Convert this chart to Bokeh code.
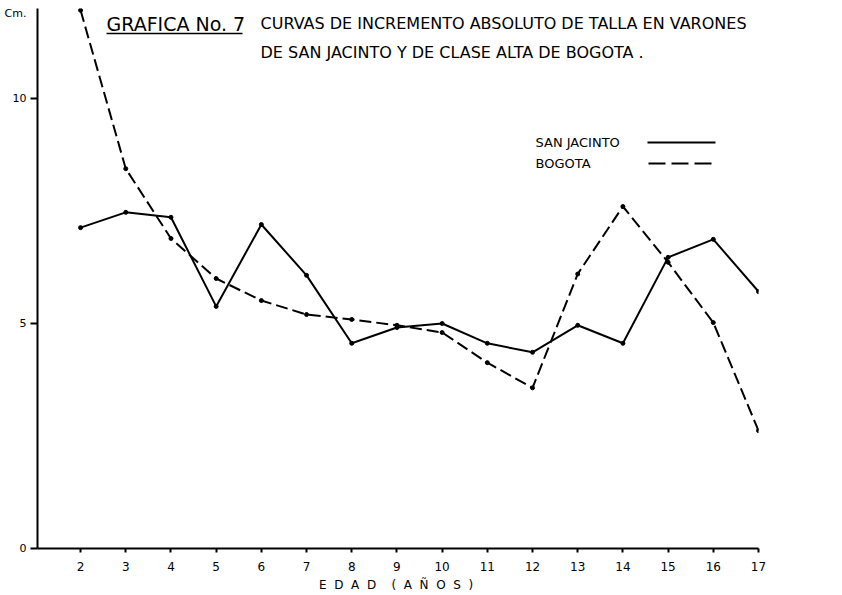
from bokeh.plotting import figure
from bokeh.models import Label, FixedTicker, Range1d, LinearAxis
from bokeh.embed import file_html
from bokeh.resources import INLINE

# ---- data ----
edad = [2, 3, 4, 5, 6, 7, 8, 9, 10, 11, 12, 13, 14, 15, 16, 17]
san_jacinto = [7.13, 7.47, 7.36, 5.38, 7.20, 6.07, 4.56, 4.91, 5.00, 4.56, 4.36, 4.96, 4.56, 6.47, 6.87, 5.71]
bogota = [11.96, 8.44, 6.89, 6.00, 5.51, 5.20, 5.09, 4.96, 4.80, 4.13, 3.57, 6.10, 7.60, 6.36, 5.02, 2.62]
y_ticks = [0, 5, 10]
x_ticks = edad

title_a = "GRAFICA No. 7"
title_1 = "CURVAS DE INCREMENTO ABSOLUTO DE TALLA EN VARONES"
title_2 = "DE SAN JACINTO Y DE CLASE ALTA DE BOGOTA ."
legend_names = ["SAN JACINTO", "BOGOTA"]
NB = "\u00a0"
x_label = (" " + NB).join("EDAD") + NB * 3 + "  " + (" " + NB).join(["(", "A", "Ñ", "O", "S", ")"])
y_unit = "Cm."

# ---- layout ----
X0, X1 = 1.047, 17.0
Y0, Y1 = 0.0, 12.0
FL, FR, FT, FB = 37, 758, 8, 548  # frame in page pixels
FW, FH = FR - FL, FB - FT
W, H = 840, 593
FONT = "DejaVu Sans"
UNIT_Y = Y0 + (FB - 13) / FH * (Y1 - Y0)  # where the unit text sits on the y scale


def px(xp, yp):
    """page pixel -> data coordinates (for annotation placement)"""
    return X0 + (xp - FL) / FW * (X1 - X0), Y0 + (FB - yp) / FH * (Y1 - Y0)


p = figure(frame_width=FW, frame_height=FH, output_backend="svg", toolbar_location=None,
           x_range=Range1d(X0, X1), y_range=Range1d(Y0, Y1),
           min_border_left=FL, min_border_top=FT, min_border_right=W - FR,
           min_border_bottom=H - FB)
p.outline_line_color = None
p.background_fill_color = "white"
p.border_fill_color = "white"
p.xgrid.visible = False
p.ygrid.visible = False

# x axis
xa = p.xaxis[0]
xa.ticker = FixedTicker(ticks=x_ticks)
xa.axis_line_color = "black"
xa.axis_line_width = 2
xa.major_tick_line_color = "black"
xa.major_tick_line_width = 2
xa.minor_tick_line_color = None
xa.major_tick_in = 0
xa.major_tick_out = 4
xa.major_label_text_font = FONT
xa.major_label_text_font_size = "12px"
xa.major_label_text_color = "black"
xa.major_label_standoff = 9
xa.axis_label = x_label
xa.axis_label_text_font = FONT
xa.axis_label_text_font_style = "normal"
xa.axis_label_text_font_size = "12px"
xa.axis_label_text_color = "black"
xa.axis_label_standoff = 4

# y axis: inner axis draws line + ticks, outer axis carries the labels (and the unit)
ya = p.yaxis[0]
ya.ticker = FixedTicker(ticks=y_ticks)
ya.axis_line_color = "black"
ya.axis_line_width = 2
ya.major_tick_line_color = "black"
ya.major_tick_line_width = 2
ya.minor_tick_line_color = None
ya.major_tick_in = 0
ya.major_tick_out = 7
ya.major_label_overrides = {t: "" for t in y_ticks}
ya.major_label_standoff = 0

ylab = LinearAxis(ticker=FixedTicker(ticks=y_ticks + [UNIT_Y]))
ylab.axis_line_color = None
ylab.major_tick_line_color = None
ylab.minor_tick_line_color = None
ylab.major_tick_in = 0
ylab.major_tick_out = 0
ylab.major_label_standoff = 4
ylab.major_label_text_font = FONT
ylab.major_label_text_font_size = "11px"
ylab.major_label_text_color = "black"
ylab.major_label_overrides = {UNIT_Y: y_unit}
p.add_layout(ylab, "left")

# series
p.line(edad, san_jacinto, line_color="black", line_width=2)
p.scatter(edad, san_jacinto, size=4, color="black")
p.line(edad, bogota, line_color="black", line_width=2, line_dash="12 5")
p.scatter(edad, bogota, size=4, color="black")


def label(text, xp, yp, size, align="left"):
    x, y = px(xp, yp)
    p.add_layout(Label(x=x, y=y, text=text, text_font=FONT, text_font_size=size,
                       text_color="black", text_align=align, text_baseline="middle"))


# titles
label(title_a, 106, 23, "19px")
ux0, uy = px(106, 33)
ux1, _ = px(242, 33)
p.segment(x0=[ux0], y0=[uy], x1=[ux1], y1=[uy], line_color="black", line_width=1.5)
label(title_1, 260, 23, "16px")
label(title_2, 260, 52, "16px")

# legend
label(legend_names[0], 535, 142, "13px")
label(legend_names[1], 535, 163, "13px")
lx0, ly0 = px(647, 142)
lx1, _ = px(715, 142)
p.segment(x0=[lx0], y0=[ly0], x1=[lx1], y1=[ly0], line_color="black", line_width=2)
lx0, ly1 = px(648, 163)
lx1, _ = px(713, 163)
p.segment(x0=[lx0], y0=[ly1], x1=[lx1], y1=[ly1], line_color="black", line_width=2, line_dash="17 6")

open("out.html", "w").write(file_html(p, INLINE))
